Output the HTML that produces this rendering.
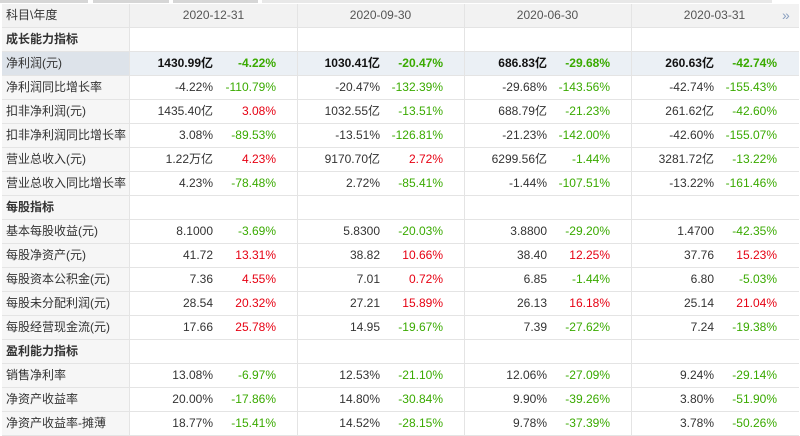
<!DOCTYPE html>
<html><head><meta charset="utf-8">
<style>
html,body{margin:0;padding:0;background:#fff;width:800px;height:434px;overflow:hidden;font-family:"Liberation Sans","Noto Sans CJK SC",sans-serif;font-size:12px;color:#333}
#tabs{position:absolute;left:0;top:0;width:800px;height:4px}
#tabs div{position:absolute;top:0;height:3px;background:#d6d6d6}
#tbl{position:absolute;left:2px;top:4px;width:797px}
.row{position:absolute;left:0;width:797px;height:24px;border-bottom:1px solid #e4e4e4;box-sizing:border-box}
.cell{position:absolute;top:0;height:23px;line-height:23px;white-space:nowrap}
.lab{left:0;width:128px;padding-left:4px;box-sizing:border-box;background:#f6f6f6;border-right:1px solid #e4e4e4;height:23px}
.vline{position:absolute;top:0;width:1px;height:23px;background:#e4e4e4}
.hdr{background:#f2f2f2}
.sec{font-weight:bold}
.hl{background:#ebf0f5}
.hl .lab{background:#dde3ea}
.hl .v{font-weight:bold;color:#111}
.hl .p{font-weight:bold}
.v{text-align:right;width:90px}
.p{text-align:right;width:60px}
.red{color:#e60012}.grn{color:#3aaa00}
.date{text-align:center;width:167px;color:#555}
</style></head><body>
<div id="tabs">
<div style="left:0;width:88px"></div><div style="left:93px;width:76px"></div><div style="left:173px;width:85px"></div><div style="left:262px;width:510px;background:#e8e8e8"></div>
</div>
<div id="tbl"></div>
<script>
const dates=["2020-12-31","2020-09-30","2020-06-30","2020-03-31"];
const labels=["成长能力指标","净利润(元)","净利润同比增长率","扣非净利润(元)","扣非净利润同比增长率","营业总收入(元)","营业总收入同比增长率","每股指标","基本每股收益(元)","每股净资产(元)","每股资本公积金(元)","每股未分配利润(元)","每股经营现金流(元)","盈利能力指标","销售净利率","净资产收益率","净资产收益率-摊薄"];
const values=[null,
["1430.99亿","1030.41亿","686.83亿","260.63亿"],
["-4.22%","-20.47%","-29.68%","-42.74%"],
["1435.40亿","1032.55亿","688.79亿","261.62亿"],
["3.08%","-13.51%","-21.23%","-42.60%"],
["1.22万亿","9170.70亿","6299.56亿","3281.72亿"],
["4.23%","2.72%","-1.44%","-13.22%"],
null,
["8.1000","5.8300","3.8800","1.4700"],
["41.72","38.82","38.40","37.76"],
["7.36","7.01","6.85","6.80"],
["28.54","27.21","26.13","25.14"],
["17.66","14.95","7.39","7.24"],
null,
["13.08%","12.53%","12.06%","9.24%"],
["20.00%","14.80%","9.90%","3.80%"],
["18.77%","14.52%","9.78%","3.78%"]];
const changes=[null,
["-4.22%","-20.47%","-29.68%","-42.74%"],
["-110.79%","-132.39%","-143.56%","-155.43%"],
["3.08%","-13.51%","-21.23%","-42.60%"],
["-89.53%","-126.81%","-142.00%","-155.07%"],
["4.23%","2.72%","-1.44%","-13.22%"],
["-78.48%","-85.41%","-107.51%","-161.46%"],
null,
["-3.69%","-20.03%","-29.20%","-42.35%"],
["13.31%","10.66%","12.25%","15.23%"],
["4.55%","0.72%","-1.44%","-5.03%"],
["20.32%","15.89%","16.18%","21.04%"],
["25.78%","-19.67%","-27.62%","-19.38%"],
null,
["-6.97%","-21.10%","-27.09%","-29.14%"],
["-17.86%","-30.84%","-39.26%","-51.90%"],
["-15.41%","-28.15%","-37.39%","-50.26%"]];
const tbl=document.getElementById('tbl');
const colX=c=>128+c*167;
function mk(cls,parent){const d=document.createElement('div');d.className=cls;parent.appendChild(d);return d;}
// header
const h=mk('row hdr',tbl);h.style.top='0px';


const hl=mk('cell lab',h);hl.textContent='科目\\年度';hl.style.background='#f2f2f2';


dates.forEach((d,c)=>{const e=mk('cell date',h);e.style.left=colX(c)+'px';e.textContent=d;


if(c>0){const v=mk('vline',h);v.style.left=colX(c)+'px';}});
const arr=mk('cell',h);arr.style.left='780px';arr.style.color='#8aa0c0';arr.style.fontSize='14px';arr.textContent='»';


labels.forEach((lb,i)=>{
 const r=mk('row',tbl);r.style.top=(24*(i+1))+'px';
 if(i===1)r.classList.add('hl');
 
 
 const l=mk('cell lab',r);l.textContent=lb;
 
 
 if(!values[i]){l.classList.add('sec');l.style.background='#f6f6f6';}
 for(let c=0;c<4;c++){
  if(c>0){const v=mk('vline',r);v.style.left=colX(c)+'px';}
  if(!values[i])continue;
  const a=mk('cell v',r);a.style.left=(colX(c)+83-90)+'px';a.textContent=values[i][c];
  
  
  const p=mk('cell p',r);p.style.left=(colX(c)+146-60)+'px';p.textContent=changes[i][c];
  p.classList.add(changes[i][c].startsWith('-')?'grn':'red');
  
  
 }
});
</script>
</body></html>
